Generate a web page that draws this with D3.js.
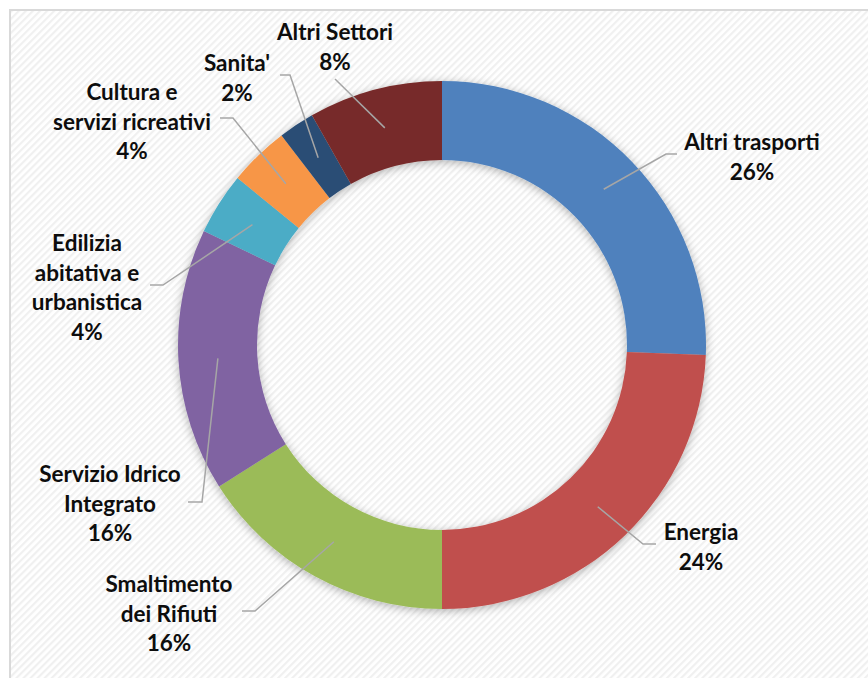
<!DOCTYPE html>
<html>
<head>
<meta charset="utf-8">
<script src="https://cdn.jsdelivr.net/npm/d3@7"></script>
<style>
  html, body { margin: 0; padding: 0; background: #fff; }
  svg { display: block; }
  .lbl { font-family: Lato, "Open Sans", sans-serif; font-weight: 700; fill: #0d0d0d; }
</style>
</head>
<body>
<svg id="chart" width="868" height="678"></svg>
<script>
// sectors, clockwise from 12 o'clock
const sectors = ['Altri trasporti', 'Energia', 'Smaltimento dei Rifiuti', 'Servizio Idrico Integrato',
  'Edilizia abitativa e urbanistica', 'Cultura e servizi ricreativi', "Sanita'", 'Altri Settori'];
const shares = [25.6, 24.4, 16.0, 16.1, 3.8, 3.7, 2.2, 8.2];
const colors = ['#4f81bd', '#c0504d', '#9bbb59', '#8064a2', '#4bacc6', '#f79646', '#2c4d75', '#772c2a'];
// how each label text is broken into lines (percentage line is added below)
const labelLines = [
  ['Altri trasporti'],
  ['Energia'],
  ['Smaltimento', 'dei Rifiuti'],
  ['Servizio Idrico', 'Integrato'],
  ['Edilizia', 'abitativa e', 'urbanistica'],
  ['Cultura e', 'servizi ricreativi'],
  ["Sanita'"],
  ['Altri Settori']
];

// layout: label centre of first line, leader elbow and end point
const labelLayout = [
  { x: 752, y: 142, elbow: [666, 154], end: [677, 154] },
  { x: 701, y: 532, elbow: [643, 544], end: [656, 544] },
  { x: 169, y: 584, elbow: [255, 611], end: [242, 611] },
  { x: 110, y: 474, elbow: [202, 502], end: [188, 502] },
  { x: 87,  y: 243, elbow: [163, 285], end: [150, 285] },
  { x: 132, y: 92,  elbow: [233, 118], end: [220, 118] },
  { x: 237, y: 63,  elbow: [290, 75],  end: [280, 75] },
  { x: 335, y: 32,  elbow: [335, 79],  end: [335, 79] }
];

const W = 868, H = 678;
const cx = 442, cy = 345, rOuter = 264, rInner = 185;
const lineGap = 29.5;

const svg = d3.select('#chart');
const defs = svg.append('defs');

const pat = defs.append('pattern')
  .attr('id', 'stripes')
  .attr('patternUnits', 'userSpaceOnUse')
  .attr('width', 5).attr('height', 5)
  .attr('patternTransform', 'rotate(45)');
pat.append('rect').attr('width', 5).attr('height', 5).attr('fill', '#ffffff');
pat.append('rect').attr('width', 2.2).attr('height', 5).attr('fill', '#f0f0f0');

const shadow = defs.append('filter').attr('id', 'shadow')
  .attr('x', '-20%').attr('y', '-20%').attr('width', '140%').attr('height', '140%');
shadow.append('feDropShadow')
  .attr('dx', 0).attr('dy', 2).attr('stdDeviation', 5)
  .attr('flood-color', '#000').attr('flood-opacity', 0.3);

// chart area with frame
svg.append('rect')
  .attr('x', 10).attr('y', 10).attr('width', W).attr('height', H)
  .attr('fill', 'url(#stripes)')
  .attr('stroke', '#d9d9d9').attr('stroke-width', 2);

const pie = d3.pie().sort(null).value((d) => d);
const arcs = pie(shares);
const arc = d3.arc().innerRadius(rInner).outerRadius(rOuter);
const midArc = d3.arc().innerRadius((rInner + rOuter) / 2).outerRadius((rInner + rOuter) / 2);

const g = svg.append('g').attr('transform', `translate(${cx},${cy})`);

g.append('g')
  .attr('filter', 'url(#shadow)')
  .selectAll('path')
  .data(arcs)
  .join('path')
  .attr('d', arc)
  .attr('fill', (d, i) => colors[i]);

// leader lines from slice middle to the label
svg.append('g')
  .attr('fill', 'none')
  .attr('stroke', '#a6a6a6')
  .attr('stroke-width', 1.5)
  .selectAll('polyline')
  .data(arcs)
  .join('polyline')
  .attr('points', (d, i) => {
    const c = midArc.centroid(d);
    const L = labelLayout[i];
    return [[cx + c[0], cy + c[1]], L.elbow, L.end].map((p) => p.join(',')).join(' ');
  });

const total = d3.sum(shares);
const fmt = (v) => `${Math.round(v / total * 100)}%`;

const labels = svg.append('g')
  .selectAll('text')
  .data(arcs)
  .join('text')
  .attr('class', 'lbl')
  .attr('font-size', 22.5)
  .attr('text-anchor', 'middle');

labels.each(function (d, i) {
  const L = labelLayout[i];
  const lines = labelLines[i].concat([fmt(d.value)]);
  d3.select(this).selectAll('tspan')
    .data(lines)
    .join('tspan')
    .attr('x', L.x)
    .attr('y', (t, j) => L.y + j * lineGap)
    .attr('dy', '0.36em')
    .text((t) => t);
});
</script>
</body>
</html>
